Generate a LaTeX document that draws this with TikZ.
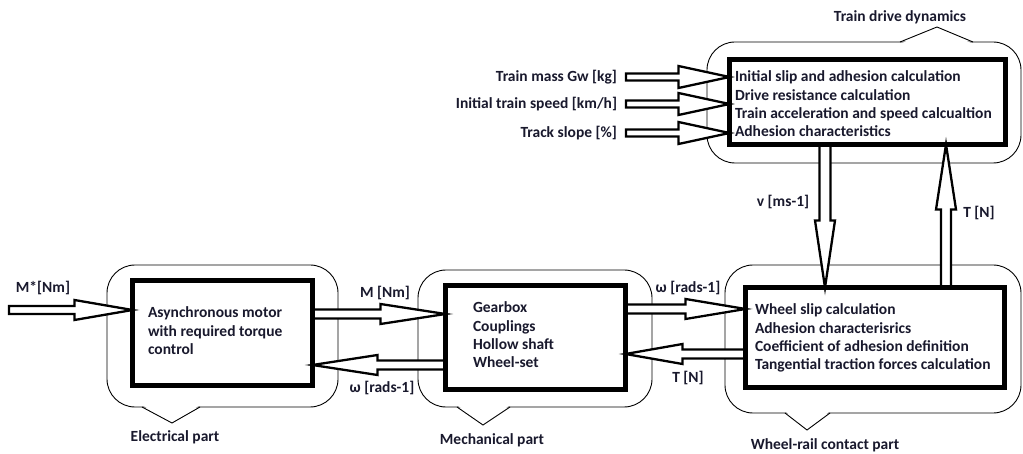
\documentclass[tikz,border=0pt]{standalone}
\usepackage{fontspec}
\setmainfont{Carlito}
\usetikzlibrary{calc}
\definecolor{txt}{RGB}{25,25,45}
\tikzset{
  x=1pt, y=-1pt,
  lbl/.style={text=txt, font=\bfseries\fontsize{15.5}{18.3}\selectfont, inner sep=0pt, outer sep=0pt},
  blocktext/.style={lbl, align=left, anchor=north west},
  blockbox/.style={draw, line width=5.5pt, inner sep=0pt, outer sep=0pt},
  cloudline/.style={draw, line width=0.9pt, rounded corners=28pt},
  notchline/.style={draw, line width=0.9pt, line join=miter},
  blockarrow/.style={draw, fill=white, line width=2.3pt, line join=miter},
}
\newcommand{\hollowarr}[5]{%
  \coordinate (hb) at ($(#2)!#5!(#1)$);
  \draw[blockarrow] ($(#1)!#3!90:(#2)$) -- ($(hb)!#3!90:(#2)$) -- ($(hb)!#4!90:(#2)$)
    -- (#2) -- ($(hb)!#4!-90:(#2)$) -- ($(hb)!#3!-90:(#2)$) -- ($(#1)!#3!-90:(#2)$) -- cycle;
}
\begin{document}
\begin{tikzpicture}
\useasboundingbox[fill=white] (0,0) rectangle (1023,454);

% clouds (callouts)
\draw[cloudline] (107,265) rectangle (338,407);
\fill[white] (142,405) -- (200,405) -- (172,423) -- cycle;
\draw[notchline] (142,407) -- (172,423) -- (200,407);

\draw[cloudline] (418,270) rectangle (652,407);
\fill[white] (457,405) -- (510,405) -- (483,425) -- cycle;
\draw[notchline] (457,407) -- (483,425) -- (510,407);

\draw[cloudline] (725,265) rectangle (1021,413);
\fill[white] (785,411) -- (830,411) -- (807,430) -- cycle;
\draw[notchline] (785,413) -- (807,430) -- (830,413);

\draw[cloudline] (707,42) rectangle (1021,163);
\fill[white] (900,44) -- (973,44) -- (937,27) -- cycle;
\draw[notchline] (900,42) -- (937,27) -- (973,42);

% blocks
\node[blockbox, minimum width=180pt, minimum height=105pt] (elec) at (222.5,333) {};
\node[blockbox, minimum width=180pt, minimum height=104pt] (mech) at (535.5,337.5) {};
\node[blockbox, minimum width=259pt, minimum height=100pt] (wrc) at (875,337.5) {};
\node[blockbox, minimum width=276pt, minimum height=85pt] (tdd) at (867.5,102) {};

% input labels
\node[lbl, anchor=east] (tm) at (617,77) {Train mass Gw [kg]};
\node[lbl, anchor=east] (its) at (617,104) {Initial train speed [km/h]};
\node[lbl, anchor=east] (ts) at (617,133) {Track slope [\%]};

% coordinates for connector levels
\coordinate (mstar) at (9,310);
\coordinate (yM) at (0,314);
\coordinate (yW) at (0,365);
\coordinate (yW2) at (0,309);
\coordinate (yT) at (0,354);
\coordinate (xv) at (825,0);
\coordinate (xT) at (946,0);

% arrows
\hollowarr{mstar}{elec.west |- mstar}{4pt}{10pt}{58pt}
\hollowarr{elec.east |- yM}{mech.west |- yM}{4.5pt}{10pt}{65pt}
\hollowarr{mech.west |- yW}{elec.east |- yW}{4.5pt}{10pt}{65pt}
\hollowarr{mech.east |- yW2}{wrc.west |- yW2}{4.5pt}{10pt}{60pt}
\hollowarr{wrc.west |- yT}{mech.east |- yT}{4.5pt}{10pt}{57pt}
\hollowarr{tdd.south -| xv}{wrc.north -| xv}{5.5pt}{10pt}{67pt}
\hollowarr{wrc.north -| xT}{tdd.south -| xT}{5pt}{10pt}{65pt}
\coordinate (tmS) at ($(tm.east)+(9,0)$);
\coordinate (itsS) at ($(its.east)+(9,0)$);
\coordinate (tsS) at ($(ts.east)+(9,0)$);
\hollowarr{tmS}{tdd.west |- tm.east}{3.5pt}{11pt}{51pt}
\hollowarr{itsS}{tdd.west |- its.east}{3.5pt}{11pt}{51pt}
\hollowarr{tsS}{tdd.west |- ts.east}{3.5pt}{11pt}{51pt}

% redraw block borders on top of arrow tips
\draw[line width=5.5pt] (elec.north west) rectangle (elec.south east);
\draw[line width=5.5pt] (mech.north west) rectangle (mech.south east);
\draw[line width=5.5pt] (wrc.north west) rectangle (wrc.south east);
\draw[line width=5.5pt] (tdd.north west) rectangle (tdd.south east);

% block texts
\node[blocktext] (tddt) at (735,71) {Initial slip and adhesion calculation\\Drive resistance calculation\\Train acceleration and speed calcualtion\\Adhesion characteristics};
\node[blocktext] (elect) at (148,307) {Asynchronous motor\\with required torque\\control};
\node[blocktext] (mecht) at (473,302) {Gearbox\\Couplings\\Hollow shaft\\Wheel-set};
\node[blocktext] (wrct) at (755,304) {Wheel slip calculation\\Adhesion characterisrics\\Coefficient of adhesion definition\\Tangential traction forces calculation};

% arrow labels
\node[lbl] (lMstar) at (43,288) {M*[Nm]};
\node[lbl] (lM) at (385,293) {M [Nm]};
\node[lbl] (lW) at (382,388) {ω [rads-1]};
\node[lbl] (lW2) at (688,288) {ω [rads-1]};
\node[lbl] (lT) at (688,378) {T [N]};
\node[lbl] (lv) at (783,202) {v [ms-1]};
\node[lbl] (lT2) at (979,213) {T [N]};

% part labels
\node[lbl] (pe) at (175,437) {Electrical part};
\node[lbl] (pm) at (492,440) {Mechanical part};
\node[lbl] (pw) at (825,445) {Wheel-rail contact part};
\node[lbl] (pt) at (900,17) {Train drive dynamics};
\end{tikzpicture}
\end{document}
